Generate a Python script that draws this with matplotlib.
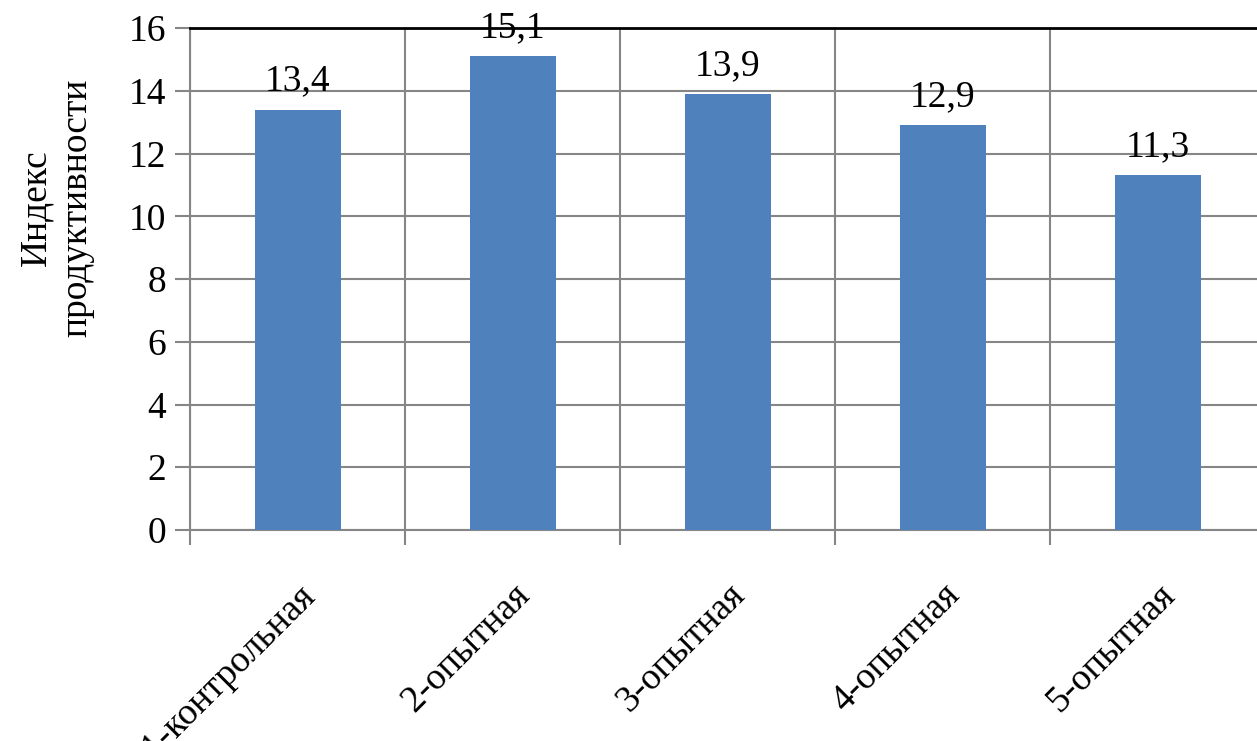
import matplotlib
matplotlib.use("Agg")
import matplotlib.pyplot as plt
from matplotlib.ticker import FixedLocator, MultipleLocator

categories = ["1-контрольная", "2-опытная", "3-опытная", "4-опытная", "5-опытная"]
values = [13.4, 15.1, 13.9, 12.9, 11.3]
value_labels = ["13,4", "15,1", "13,9", "12,9", "11,3"]
y_label = "Индекс\nпродуктивности"

plt.rcParams["font.family"] = ["Liberation Serif", "DejaVu Serif"]

fig = plt.figure(figsize=(12.57, 7.41), dpi=100)
W, H = 1257, 741
ax = fig.add_axes([190 / W, (H - 530) / H, (1265 - 190) / W, (530 - 28) / H])

grid_c = "#868686"
x = list(range(len(categories)))
ax.bar(x, values, width=0.4, color="#4F81BD", zorder=3)
for xi, v, lab in zip(x, values, value_labels):
    ax.text(xi, v + 0.35, lab, ha="center", va="bottom", fontsize=27, zorder=4)

ax.set_xlim(-0.5, len(categories) - 0.5)
ax.set_ylim(0, 16)
ax.yaxis.set_major_locator(MultipleLocator(2))
ax.set_xticks(x)
ax.set_xticklabels(categories, rotation=45, ha="right", rotation_mode="anchor", fontsize=27)
ax.xaxis.set_minor_locator(FixedLocator([i - 0.5 for i in range(len(categories) + 1)]))
ax.tick_params(axis="x", which="major", length=0, pad=34)
ax.tick_params(axis="x", which="minor", length=11, width=1.5, color=grid_c, direction="out")
ax.tick_params(axis="y", length=11, width=1.5, color=grid_c, labelsize=27, pad=6)

ax.grid(True, axis="y", which="major", color=grid_c, linewidth=1.5, zorder=0)
ax.grid(True, axis="x", which="minor", color=grid_c, linewidth=1.5, zorder=0)

for s in ["left", "bottom"]:
    ax.spines[s].set_color(grid_c)
    ax.spines[s].set_linewidth(1.5)
ax.spines["right"].set_visible(False)
ax.spines["top"].set_color("black")
ax.spines["top"].set_linewidth(2)

fig.text(57 / W, (H - 208) / H, y_label, rotation=90, ha="center", va="center",
         fontsize=27, linespacing=1.25)

fig.savefig("out.png", dpi=100)
